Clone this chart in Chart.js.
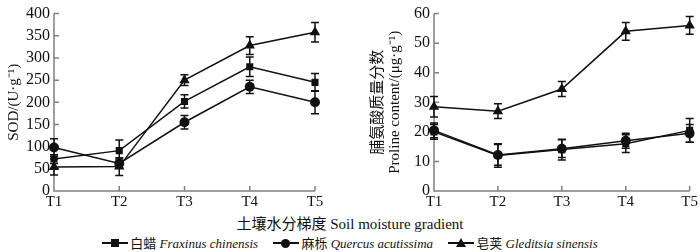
<!DOCTYPE html>
<html>
<head>
<meta charset="utf-8">
<script src="https://cdn.jsdelivr.net/npm/chart.js"></script>
<style>
  body { margin: 0; background: #fff; width: 700px; height: 252px; position: relative; overflow: hidden; }
  #sodBox { position: absolute; left: 0; top: 0; width: 330px; height: 212px; }
  #proBox { position: absolute; left: 350px; top: 0; width: 350px; height: 212px; }
  #xTitle { position: absolute; left: 0; width: 700px; top: 212px; text-align: center;
    font: 15px "Liberation Serif", "Noto Sans CJK SC", serif; color: #111; }
  #legend { position: absolute; left: 0; width: 700px; top: 233px; text-align: center;
    font: 13px "Liberation Serif", "Noto Sans CJK SC", serif; color: #111; white-space: nowrap; }
  .item { display: inline-block; margin: 0 6px; }
  .sym { display: inline-block; position: relative; width: 26px; height: 12px; vertical-align: -1px; margin-right: 2px; }
  .sym .ln { position: absolute; left: 0; right: 0; top: 5px; height: 2px; background: #111; }
  .sym .sq { position: absolute; left: 9px; top: 2px; width: 8px; height: 8px; background: #111; }
  .sym .ci { position: absolute; left: 8px; top: 2px; width: 9px; height: 9px; border-radius: 50%; background: #111; }
  .sym .tr { position: absolute; left: 8px; top: 1px; width: 0; height: 0; border-left: 5px solid transparent;
    border-right: 5px solid transparent; border-bottom: 9px solid #111; }
  i { font-style: italic; }
</style>
</head>
<body>
<div id="sodBox"><canvas id="sodChart"></canvas></div>
<div id="proBox"><canvas id="proChart"></canvas></div>
<div id="xTitle">土壤水分梯度 Soil moisture gradient</div>
<div id="legend">
  <span class="item"><span class="sym"><span class="ln"></span><span class="sq"></span></span>白蜡 <i>Fraxinus chinensis</i></span>
  <span class="item"><span class="sym"><span class="ln"></span><span class="ci"></span></span>麻栎 <i>Quercus acutissima</i></span>
  <span class="item"><span class="sym"><span class="ln"></span><span class="tr"></span></span>皂荚 <i>Gleditsia sinensis</i></span>
</div>
<script>
const gradients = ['T1', 'T2', 'T3', 'T4', 'T5'];

// SOD activity (U·g-1)
const sodFraxinus = [72, 91, 202, 280, 245];
const sodFraxinusErr = [10, 24, 15, 22, 20];
const sodQuercus = [98, 62, 155, 235, 200];
const sodQuercusErr = [20, 10, 15, 15, 26];
const sodGleditsia = [54, 55, 250, 328, 358];
const sodGleditsiaErr = [18, 20, 12, 20, 22];

// proline content (μg·g-1)
const proFraxinus = [20, 12, 14, 16, 20.5];
const proFraxinusErr = [2.5, 4, 3.5, 3, 4];
const proQuercus = [20.5, 12.2, 14.3, 17, 19.5];
const proQuercusErr = [2.5, 3.5, 3, 2.5, 3];
const proGleditsia = [28.5, 27, 34.5, 54, 56];
const proGleditsiaErr = [3.5, 2.5, 2.5, 3, 3];

const serif = '"Liberation Serif", "DejaVu Serif", serif';
const axisGray = '#808080';

// error bars + inward tick marks
const errorBars = {
  id: 'errorBars',
  afterDatasetsDraw(chart) {
    const ctx = chart.ctx;
    const x = chart.scales.x, y = chart.scales.y;
    ctx.save();
    ctx.strokeStyle = '#111';
    ctx.lineWidth = 1.5;
    chart.data.datasets.forEach(ds => {
      ds.data.forEach((v, i) => {
        const px = x.getPixelForValue(i);
        const top = y.getPixelForValue(v + ds.err[i]);
        const bot = y.getPixelForValue(v - ds.err[i]);
        ctx.beginPath();
        ctx.moveTo(px, top); ctx.lineTo(px, bot);
        ctx.moveTo(px - 4, top); ctx.lineTo(px + 4, top);
        ctx.moveTo(px - 4, bot); ctx.lineTo(px + 4, bot);
        ctx.stroke();
      });
    });
    ctx.restore();
  },
  beforeDatasetsDraw(chart) {
    const ctx = chart.ctx;
    const x = chart.scales.x, y = chart.scales.y;
    const a = chart.chartArea;
    ctx.save();
    ctx.strokeStyle = axisGray;
    ctx.lineWidth = 1.5;
    ctx.beginPath();
    ctx.moveTo(a.left, a.top); ctx.lineTo(a.left, a.bottom); ctx.lineTo(a.right, a.bottom);
    y.ticks.forEach(t => {
      const py = y.getPixelForValue(t.value);
      ctx.moveTo(a.left, py); ctx.lineTo(a.left + 5, py);
    });
    gradients.forEach((g, i) => {
      if (i === 0) return;
      const px = x.getPixelForValue(i);
      ctx.moveTo(px, a.bottom); ctx.lineTo(px, a.bottom - 5);
    });
    ctx.stroke();
    ctx.restore();
  }
};

function series(data, err, style, radius) {
  return {
    data: data, err: err,
    borderColor: '#111', backgroundColor: '#111', borderWidth: 1.5,
    pointStyle: style, pointRadius: radius, pointBorderWidth: 0,
    tension: 0
  };
}

function makeChart(id, sets, max, step, title, leftPad, yWidth, rightPad) {
  const ctx = document.getElementById(id).getContext('2d');
  return new Chart(ctx, {
    type: 'line',
    data: { labels: gradients, datasets: sets },
    options: {
      responsive: true, maintainAspectRatio: false, animation: false,
      layout: { padding: { top: 12, right: rightPad, left: leftPad, bottom: 0 } },
      plugins: { legend: { display: false }, tooltip: { enabled: false } },
      scales: {
        x: {
          offset: false,
          grid: { display: false, drawTicks: false },
          border: { display: false },
          ticks: { color: '#111', font: { family: serif, size: 15 }, padding: 2, maxRotation: 0 },
          afterFit: s => { s.height = 21; }
        },
        y: {
          min: 0, max: max,
          grid: { display: false, drawTicks: false },
          border: { display: false },
          ticks: { stepSize: step, autoSkip: false, color: '#111', font: { family: serif, size: 16 }, padding: 4 },
          title: { display: true, text: title, color: '#111',
            font: { family: '"Liberation Serif", "Noto Sans CJK SC", serif', size: 15, lineHeight: 1.1 }, padding: 0 },
          afterFit: s => { s.width = yWidth; }
        }
      }
    },
    plugins: [errorBars]
  });
}

makeChart('sodChart', [
  series(sodFraxinus, sodFraxinusErr, 'rect', 5),
  series(sodQuercus, sodQuercusErr, 'circle', 5),
  series(sodGleditsia, sodGleditsiaErr, 'triangle', 6)
], 400, 50, 'SOD/(U·g⁻¹)', 6, 48, 15);

makeChart('proChart', [
  series(proFraxinus, proFraxinusErr, 'rect', 5),
  series(proQuercus, proQuercusErr, 'circle', 5),
  series(proGleditsia, proGleditsiaErr, 'triangle', 6)
], 60, 10, ['脯氨酸质量分数', 'Proline content/(μg·g⁻¹)'], 20, 64, 6);
</script>
</body>
</html>
